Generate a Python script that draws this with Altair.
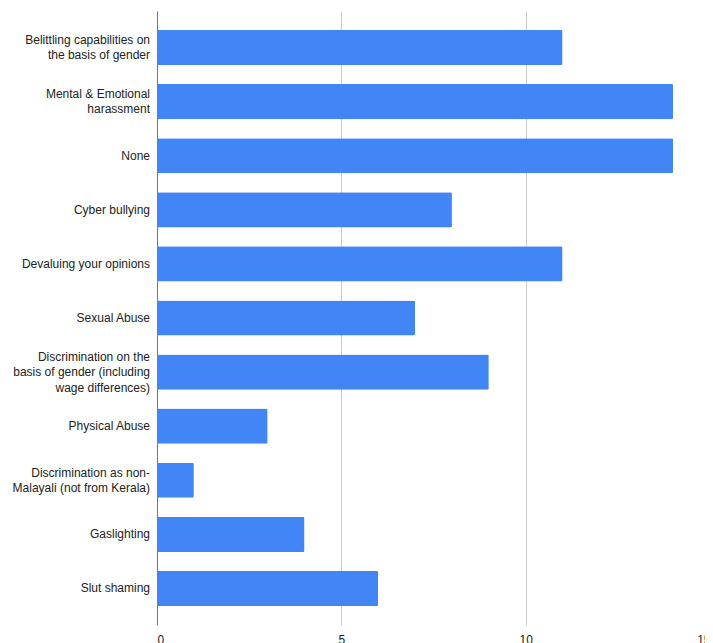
import altair as alt
import pandas as pd

categories = [
    "Belittling capabilities on\nthe basis of gender",
    "Mental & Emotional\nharassment",
    "None",
    "Cyber bullying",
    "Devaluing your opinions",
    "Sexual Abuse",
    "Discrimination on the\nbasis of gender (including\nwage differences)",
    "Physical Abuse",
    "Discrimination as non-\nMalayali (not from Kerala)",
    "Gaslighting",
    "Slut shaming",
]
values = [11, 14, 14, 8, 11, 7, 9, 3, 1, 4, 6]
x_ticks = [0, 5, 10, 15]

df = pd.DataFrame({"category": categories, "count": values})

LINE_H = 15.5

y_enc = alt.Y(
    "category:N",
    sort=None,
    title=None,
    scale=alt.Scale(paddingInner=0.35, paddingOuter=0.35),
    axis=alt.Axis(
        labels=False,
        ticks=False,
        domainColor="#777777",
        domainWidth=1,
        grid=False,
    ),
)

bars = alt.Chart(df).mark_bar(color="#4285F4", cornerRadiusEnd=1.5).encode(
    y=y_enc,
    x=alt.X(
        "count:Q",
        title=None,
        scale=alt.Scale(domain=[0, 15], nice=False, range=[0, 553]),
        axis=alt.Axis(
            values=x_ticks,
            labelFont="Liberation Sans",
            labelFontSize=12,
            labelColor="#222222",
            labelPadding=9,
            ticks=False,
            domain=False,
            grid=True,
            gridColor="#cccccc",
        ),
    ),
)

label_layers = []
for k in (1, 2, 3):
    lay = (
        alt.Chart(df)
        .transform_calculate(lines="split(datum.category, '\\n')")
        .transform_calculate(n="length(datum.lines)")
        .transform_filter(f"datum.n == {k}")
        .mark_text(
            align="right",
            baseline="middle",
            font="Liberation Sans",
            fontSize=12,
            color="#222222",
            lineHeight=LINE_H,
            dy=-(k - 1) * LINE_H / 2,
        )
        .encode(
            y=alt.Y("category:N", sort=categories, title=None),
            x=alt.value(-7),
            text=alt.Text("lines:N"),
        )
    )
    label_layers.append(lay)

chart = alt.layer(bars, *label_layers).properties(
    width=548,
    height=614,
    autosize=alt.AutoSizeParams(type="none"),
    padding={"left": 149, "top": 3, "right": 0, "bottom": 18},
).configure_view(stroke=None)

chart.save("out.html", embed_options={"renderer": "svg", "actions": False})
